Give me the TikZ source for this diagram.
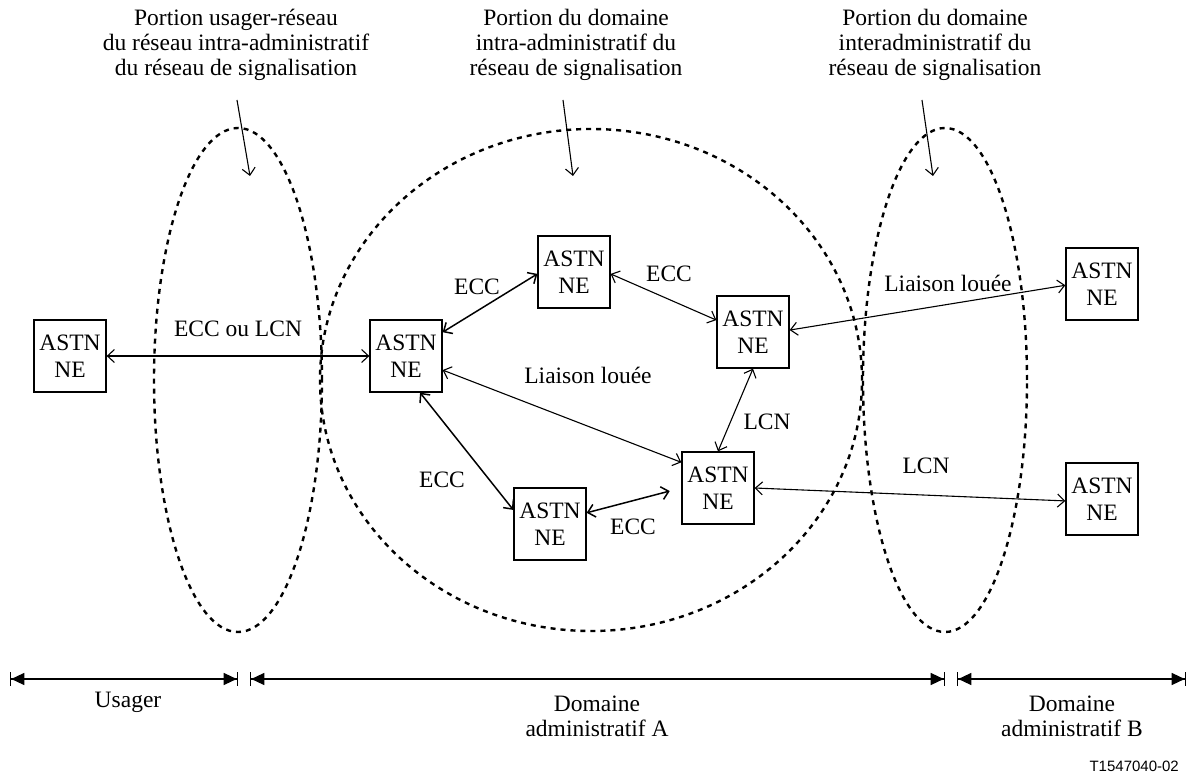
\documentclass[tikz,border=0pt]{standalone}
\usepackage{fontspec}
\setmainfont{Liberation Serif}
\newfontfamily\labelsans{Liberation Sans}
\usetikzlibrary{arrows.meta,shapes.geometric}
\begin{document}
\begin{tikzpicture}[x=1pt,y=-1pt,
  >={Straight Barb[length=7pt,width=13pt]},
  every node/.style={font=\fontsize{23.5}{25}\selectfont, inner sep=0pt},
  ne/.style={draw, line width=1.3pt, minimum width=72pt, minimum height=72pt,
    align=center, font=\fontsize{23.5}{27}\selectfont},
  region/.style={draw, ellipse, line width=2.4pt, dash pattern=on 5pt off 5pt},
  title/.style={align=center},
  link/.style={<->, line width=1.1pt},
  linkb/.style={<->, line width=1.5pt},
  pointer/.style={->, line width=1.1pt},
  dimline/.style={line width=1.3pt,
    {Bar[width=14pt,sep=0pt]Triangle[length=13pt,width=12pt,sep=0pt]}-{Triangle[length=13pt,width=12pt,sep=0pt]Bar[width=14pt,sep=0pt]}},
]
\useasboundingbox (0,0) rectangle (1192,783);

% signalling regions
\node[region, minimum width=168pt, minimum height=504pt] (usr) at (238,380) {};
\node[region, minimum width=542pt, minimum height=502pt] (dom) at (591,380) {};
\node[region, minimum width=164pt, minimum height=504pt] (inter) at (945,380) {};

% region titles
\node[title] (t1) at (236,45) {Portion usager-réseau\\du réseau intra-administratif\\du réseau de signalisation};
\node[title] (t2) at (576,45) {Portion du domaine\\intra-administratif du\\réseau de signalisation};
\node[title] (t3) at (935,45) {Portion du domaine\\interadministratif du\\réseau de signalisation};

\coordinate (p1s) at (237,100); \coordinate (p1e) at (250,176);
\coordinate (p2s) at (563,100); \coordinate (p2e) at (573,176);
\coordinate (p3s) at (922,100); \coordinate (p3e) at (933,176);
\draw[pointer] (p1s) -- (p1e);
\draw[pointer] (p2s) -- (p2e);
\draw[pointer] (p3s) -- (p3e);

% network elements
\node[ne] (ne0) at (70,356)   {ASTN\\NE};
\node[ne] (ne1) at (406,356)  {ASTN\\NE};
\node[ne] (ne2) at (574,272)  {ASTN\\NE};
\node[ne] (ne3) at (753,332)  {ASTN\\NE};
\node[ne] (ne4) at (718,488)  {ASTN\\NE};
\node[ne] (ne5) at (550,524)  {ASTN\\NE};
\node[ne] (ne6) at (1102,284) {ASTN\\NE};
\node[ne] (ne7) at (1102,499) {ASTN\\NE};

% links
\draw[link]  (ne0.east) -- (ne1.west);
\draw[linkb] (ne1.33) -- (ne2.183);
\draw[link]  (ne2.357) -- (ne3.162);
\draw[link]  (ne3.3) -- (ne6.182);
\draw[link]  (ne3.south) -- (ne4.north);
\draw[link]  (ne1.339) -- (ne4.145);
\draw[linkb] (ne1.291) -- (ne5.159);
\draw[linkb, shorten >=12pt] (ne5.17) -- (ne4.west);
\draw[link]  (ne4.east) -- (ne7.183);

% link labels
\node (l0) at (238,329) {ECC ou LCN};
\node (l1) at (477,287) {ECC};
\node (l2) at (669,274) {ECC};
\node (l3) at (767,422) {LCN};
\node (l4) at (588,375) {Liaison louée};
\node (l5) at (948,283) {Liaison louée};
\node (l6) at (926,466) {LCN};
\node (l7) at (442,480) {ECC};
\node (l8) at (633,527) {ECC};

% extent of each domain
\coordinate (u1) at (10,679);  \coordinate (u2) at (238,679);
\coordinate (a1) at (250,679); \coordinate (a2) at (945,679);
\coordinate (b1) at (957,679); \coordinate (b2) at (1186,679);
\draw[dimline] (u1) -- (u2);
\draw[dimline] (a1) -- (a2);
\draw[dimline] (b1) -- (b2);
\node (du) at (128,702) {Usager};
\node[align=center] (da) at (597,716) {Domaine\\administratif A};
\node[align=center] (db) at (1072,716) {Domaine\\administratif B};

\node[anchor=east, font=\labelsans\fontsize{15}{18}\selectfont] (ref) at (1179,766) {T1547040-02};
\end{tikzpicture}
\end{document}
